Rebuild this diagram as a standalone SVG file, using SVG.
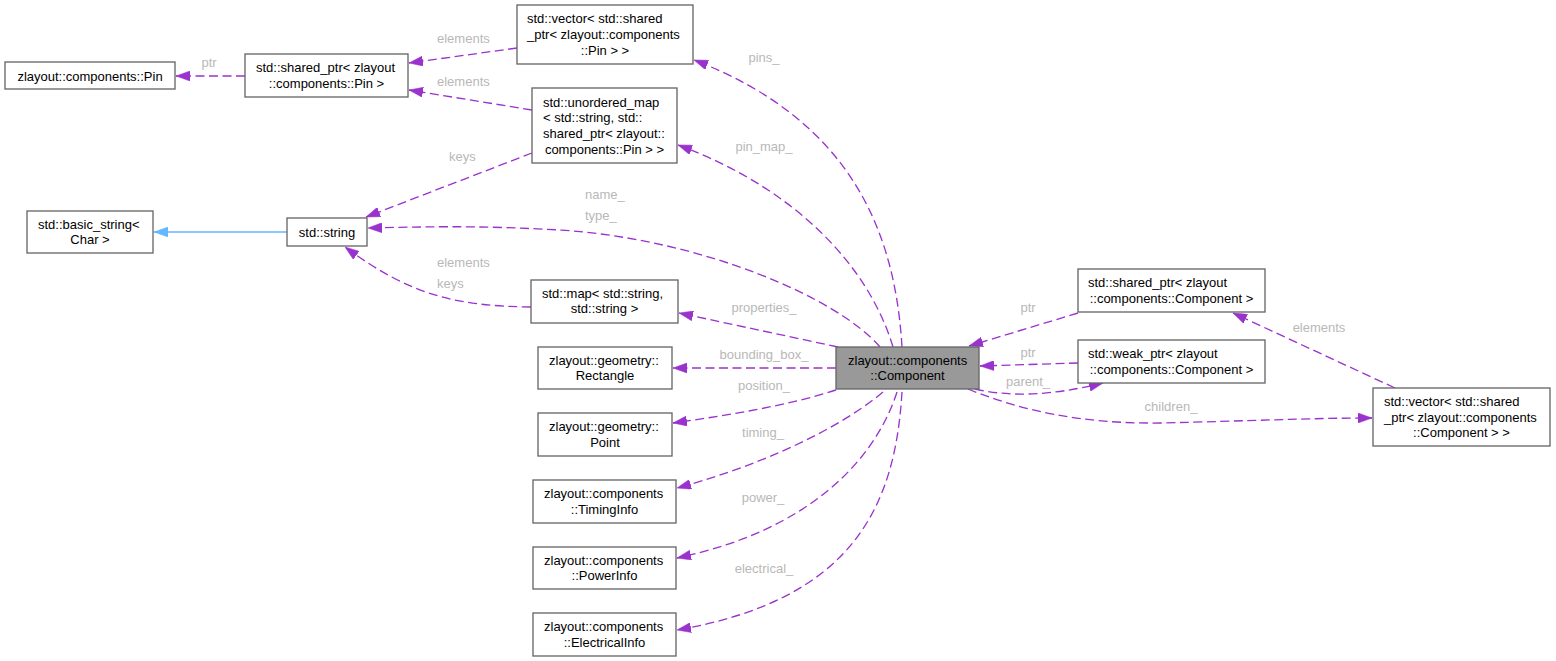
<svg xmlns="http://www.w3.org/2000/svg" width="1556" height="661" viewBox="0 0 1556 661">
<style>
.n rect{fill:#ffffff;stroke:#666666;stroke-width:1.33}
.n.root rect{fill:#999999}
.n text{font-family:"Liberation Sans",Arial,sans-serif;font-size:13px;fill:#000000}
.c{text-anchor:middle}
.e path.l{fill:none;stroke:#9a32cd;stroke-width:1.33;stroke-dasharray:9,4.5;marker-end:url(#ah)}
.e path.b{fill:none;stroke:#63b8ff;stroke-width:1.33;marker-end:url(#bh)}
.e text{font-family:"Liberation Sans",Arial,sans-serif;font-size:13px;fill:#b8b8b8}
</style>
<defs>
<marker id="ah" markerUnits="userSpaceOnUse" markerWidth="14" markerHeight="10" viewBox="0 0 14 10" refX="14" refY="5" orient="auto"><path d="M0,0 L14,5 L0,10 z" fill="#9a32cd" stroke="#9a32cd" stroke-width="0.5"/></marker>
<marker id="bh" markerUnits="userSpaceOnUse" markerWidth="14" markerHeight="10" viewBox="0 0 14 10" refX="14" refY="5" orient="auto"><path d="M0,0 L14,5 L0,10 z" fill="#63b8ff" stroke="#63b8ff" stroke-width="0.5"/></marker>
</defs>
<rect width="1556" height="661" fill="#ffffff"/>
<g id="edges" class="e">
<path class="l" d="M245,76 L176,76"/>
<text x="209" y="67" class="c">ptr</text>
<path class="l" d="M517,48 L409,63"/>
<text x="437" y="43">elements</text>
<path class="l" d="M532,110 L409,90"/>
<text x="437" y="86">elements</text>
<path class="l" d="M532,153 L366,217"/>
<text x="449" y="161">keys</text>
<path class="b" d="M287,232 L154,232"/>
<path class="l" d="M531,307 C455,306 410,295 345,247"/>
<text x="437" y="267">elements</text>
<text x="437" y="288">keys</text>
<path class="l" d="M880,347 C837,297 700,239 560,230 C470,225 420,227 368,228"/>
<text x="585" y="199">name_</text>
<text x="585" y="220">type_</text>
<path class="l" d="M902,347 C895,230 850,120 694,60"/>
<text x="764" y="62" class="c">pins_</text>
<path class="l" d="M893,347 C870,270 800,190 678,145"/>
<text x="764" y="151" class="c">pin_map_</text>
<path class="l" d="M838,347 L679,313"/>
<text x="764" y="312" class="c">properties_</text>
<path class="l" d="M836,368 L673,368"/>
<text x="764" y="359" class="c">bounding_box_</text>
<path class="l" d="M836,390 C790,405 730,415 673,423"/>
<text x="764" y="390" class="c">position_</text>
<path class="l" d="M883,392 C850,420 780,460 677,488"/>
<text x="763" y="437" class="c">timing_</text>
<path class="l" d="M897,392 C875,460 810,530 677,558"/>
<text x="763" y="502" class="c">power_</text>
<path class="l" d="M902,392 C895,510 850,600 677,630"/>
<text x="764" y="573" class="c">electrical_</text>
<path class="l" d="M1078,313 L969,346"/>
<text x="1028" y="312" class="c">ptr</text>
<path class="l" d="M1078,363 L980,366"/>
<text x="1028" y="357" class="c">ptr</text>
<path class="l" d="M975,389 C1010,397 1050,396 1103,383"/>
<text x="1028" y="386" class="c">parent_</text>
<path class="l" d="M968,389 C1020,410 1080,424 1160,423 C1250,421 1310,418 1372,418"/>
<text x="1171" y="411" class="c">children_</text>
<path class="l" d="M1395,388 L1233,313"/>
<text x="1319" y="332" class="c">elements</text>
</g>
<g id="node_pin" class="n"><rect x="5" y="62" width="170" height="27"/><text x="90" y="80.5" class="c">zlayout::components::Pin</text></g>
<g id="node_shared_pin" class="n"><rect x="245" y="54" width="163" height="43"/><text x="256" y="72">std::shared_ptr&lt; zlayout</text><text x="326.5" y="87.5" class="c">::components::Pin &gt;</text></g>
<g id="node_basic_string" class="n"><rect x="27" y="211" width="126" height="42"/><text x="38" y="228.5">std::basic_string&lt;</text><text x="90" y="244" class="c">Char &gt;</text></g>
<g id="node_string" class="n"><rect x="287" y="218" width="80" height="28"/><text x="327" y="236.5" class="c">std::string</text></g>
<g id="node_vector_pin" class="n"><rect x="517" y="5" width="176" height="59"/><text x="527" y="23">std::vector&lt; std::shared</text><text x="527" y="39">_ptr&lt; zlayout::components</text><text x="605" y="55" class="c">::Pin &gt; &gt;</text></g>
<g id="node_unordered_map" class="n"><rect x="532" y="88" width="145" height="75"/><text x="543" y="106.5">std::unordered_map</text><text x="543" y="122">&lt; std::string, std::</text><text x="543" y="137.5">shared_ptr&lt; zlayout::</text><text x="604.5" y="153.5" class="c">components::Pin &gt; &gt;</text></g>
<g id="node_map" class="n"><rect x="531" y="280" width="147" height="43"/><text x="542" y="297.5">std::map&lt; std::string,</text><text x="604.5" y="313" class="c">std::string &gt;</text></g>
<g id="node_component" class="n root"><rect x="836" y="347" width="143" height="42"/><text x="848" y="364.5">zlayout::components</text><text x="907.5" y="380" class="c">::Component</text></g>
<g id="node_rectangle" class="n"><rect x="538" y="347" width="134" height="42"/><text x="549" y="364.5">zlayout::geometry::</text><text x="605" y="380" class="c">Rectangle</text></g>
<g id="node_point" class="n"><rect x="538" y="413" width="134" height="43"/><text x="549" y="431">zlayout::geometry::</text><text x="605" y="446.5" class="c">Point</text></g>
<g id="node_timing" class="n"><rect x="533" y="480" width="143" height="43"/><text x="544" y="498">zlayout::components</text><text x="604.5" y="513.5" class="c">::TimingInfo</text></g>
<g id="node_power" class="n"><rect x="533" y="547" width="143" height="42"/><text x="544" y="564.5">zlayout::components</text><text x="604.5" y="580" class="c">::PowerInfo</text></g>
<g id="node_electrical" class="n"><rect x="533" y="613" width="143" height="43"/><text x="544" y="631">zlayout::components</text><text x="604.5" y="646.5" class="c">::ElectricalInfo</text></g>
<g id="node_shared_component" class="n"><rect x="1078" y="269" width="187" height="43"/><text x="1088" y="287">std::shared_ptr&lt; zlayout</text><text x="1171.5" y="302.5" class="c">::components::Component &gt;</text></g>
<g id="node_weak_component" class="n"><rect x="1078" y="340" width="187" height="43"/><text x="1088" y="358">std::weak_ptr&lt; zlayout</text><text x="1171.5" y="373.5" class="c">::components::Component &gt;</text></g>
<g id="node_vector_component" class="n"><rect x="1373" y="388" width="177" height="58"/><text x="1384" y="406">std::vector&lt; std::shared</text><text x="1384" y="421.5">_ptr&lt; zlayout::components</text><text x="1461.5" y="437" class="c">::Component &gt; &gt;</text></g>
</svg>
